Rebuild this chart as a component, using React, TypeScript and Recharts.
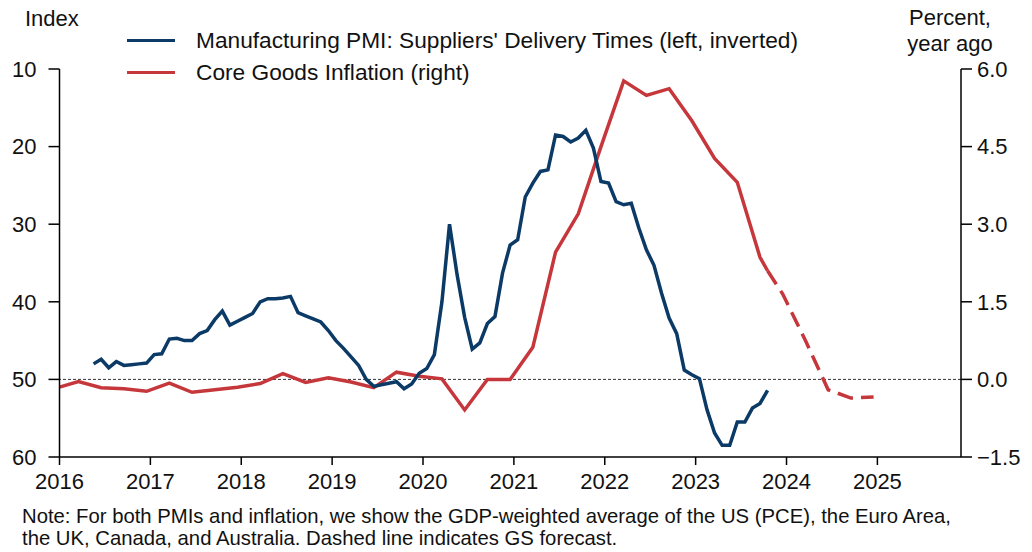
import { LineChart, Line, XAxis, YAxis, ReferenceLine } from "recharts";

// Manufacturing PMI: suppliers' delivery times, monthly from May 2016 (left axis, inverted)
const pmiStart = "2016-05";
const pmiValues = [
  48.0, 47.4, 48.5, 47.7, 48.2, 48.1, 48.0, 47.9,
  46.8, 46.7, 44.8, 44.7, 45.0, 45.0, 44.1, 43.7, 42.3, 41.2, 43.0, 42.5,
  42.0, 41.5, 40.0, 39.6, 39.6, 39.5, 39.3, 41.4, 41.8, 42.2, 42.6, 43.7,
  45.0, 46.0, 47.1, 48.2, 50.0, 50.9, 50.7, 50.5, 50.3, 51.2, 50.6, 49.2,
  48.6, 46.8, 40.0, 30.0, 36.5, 42.0, 46.1, 45.3, 42.8, 41.9, 36.3, 32.7,
  32.0, 26.5, 24.7, 23.2, 23.0, 18.5, 18.7, 19.4, 18.9, 17.9, 20.2, 24.5,
  24.7, 27.1, 27.5, 27.3, 30.5, 33.3, 35.3, 38.9, 42.1, 44.1, 48.8, 49.4,
  49.9, 53.9, 56.9, 58.5, 58.5, 55.5, 55.5, 53.7, 53.1, 51.4,
];

// Core goods inflation, % yoy (right axis)
const coreDates = [
  "2015-12", "2016-03", "2016-06", "2016-09", "2016-12", "2017-03", "2017-06", "2017-09",
  "2017-12", "2018-03", "2018-06", "2018-09", "2018-12", "2019-03", "2019-06", "2019-09",
  "2019-12", "2020-03", "2020-06", "2020-09", "2020-12", "2021-03", "2021-06", "2021-09",
  "2021-12", "2022-03", "2022-06", "2022-09", "2022-12", "2023-03", "2023-06", "2023-09",
  "2023-10",
];
const coreValues = [
  -0.17, -0.04, -0.16, -0.18, -0.23, -0.07, -0.25, -0.2,
  -0.15, -0.08, 0.11, -0.06, 0.03, -0.05, -0.16, 0.14,
  0.06, 0.01, -0.59, 0.0, 0.0, 0.62, 2.46, 3.2,
  4.5, 5.77, 5.49, 5.62, 5.0, 4.27, 3.81, 2.36,
  2.1,
];

// GS forecast (dashed)
const forecastDates = ["2023-10", "2023-12", "2024-03", "2024-06", "2024-09", "2024-12"];
const forecastValues = [2.1, 1.65, 0.75, -0.2, -0.36, -0.34];

const yearTicks = [2016, 2017, 2018, 2019, 2020, 2021, 2022, 2023, 2024, 2025];
const leftTicks = [10, 20, 30, 40, 50, 60];
const rightTicks = [-1.5, 0, 1.5, 3, 4.5, 6];

const NAVY = "#0b3a66";
const RED = "#c6373c";
const FONT = "'Liberation Sans', Arial, sans-serif";

const toYear = (ym: string) => {
  const [y, m] = ym.split("-").map(Number);
  return y + (m - 0.5) / 12;
};

const [startY, startM] = pmiStart.split("-").map(Number);
const pmiData = pmiValues.map((v, i) => ({
  t: startY + (startM - 1 + i + 0.5) / 12,
  pmi: v,
}));
const coreData = coreDates.map((d, i) => ({ t: toYear(d), core: coreValues[i] }));
const forecastData = forecastDates.map((d, i) => ({ t: toYear(d), core: forecastValues[i] }));

const tickStyle = { fill: "#111", fontSize: 22, fontFamily: FONT };
const fmtRight = (v: number) => (v < 0 ? "\u2212" + Math.abs(v).toFixed(1) : v.toFixed(1));

export default function App() {
  return (
    <div
      style={{
        position: "absolute",
        left: 0,
        top: 0,
        width: 1032,
        height: 552,
        background: "#fff",
        fontFamily: FONT,
        color: "#111",
      }}
    >
      <LineChart width={1032} height={552} margin={{ top: 69, right: 0, bottom: 0, left: 0 }}>
        <XAxis
          type="number"
          dataKey="t"
          domain={[2016, 2025.92]}
          ticks={yearTicks}
          allowDataOverflow
          tickSize={8}
          tickMargin={8}
          height={95}
          stroke="#000"
          strokeWidth={1.5}
          tick={tickStyle}
        />
        <YAxis
          yAxisId="left"
          orientation="left"
          reversed
          domain={[10, 60]}
          ticks={leftTicks}
          width={59.5}
          tickSize={11}
          tickMargin={12}
          stroke="#000"
          strokeWidth={1.5}
          tick={tickStyle}
        />
        <YAxis
          yAxisId="right"
          orientation="right"
          domain={[-1.5, 6]}
          ticks={rightTicks}
          tickFormatter={fmtRight}
          width={71}
          tickSize={11}
          tickMargin={5}
          stroke="#000"
          strokeWidth={1.5}
          tick={tickStyle}
        />
        <ReferenceLine yAxisId="right" y={0} stroke="#333" strokeWidth={1} strokeDasharray="3 2" />
        <Line
          yAxisId="right"
          data={coreData}
          dataKey="core"
          stroke={RED}
          strokeWidth={3.5}
          dot={false}
          isAnimationActive={false}
        />
        <Line
          yAxisId="right"
          data={forecastData}
          dataKey="core"
          stroke={RED}
          strokeWidth={3.5}
          strokeDasharray="16 8"
          dot={false}
          isAnimationActive={false}
        />
        <Line
          yAxisId="left"
          data={pmiData}
          dataKey="pmi"
          stroke={NAVY}
          strokeWidth={3.5}
          dot={false}
          isAnimationActive={false}
        />
      </LineChart>

      <div style={{ position: "absolute", left: 25, top: 6, fontSize: 22 }}>Index</div>
      <div
        style={{
          position: "absolute",
          left: 890,
          top: 5,
          width: 120,
          fontSize: 22,
          lineHeight: "26px",
          textAlign: "center",
        }}
      >
        Percent,
        <br />
        year ago
      </div>

      {[
        { label: "Manufacturing PMI: Suppliers' Delivery Times (left, inverted)", color: NAVY, y: 40 },
        { label: "Core Goods Inflation (right)", color: RED, y: 72 },
      ].map((item) => (
        <div key={item.label}>
          <div
            style={{
              position: "absolute",
              left: 127,
              top: item.y - 1.5,
              width: 48,
              height: 3,
              background: item.color,
            }}
          />
          <div
            style={{
              position: "absolute",
              left: 196,
              top: item.y - 13,
              fontSize: 22.7,
              lineHeight: "26px",
              whiteSpace: "nowrap",
            }}
          >
            {item.label}
          </div>
        </div>
      ))}

      <div
        style={{
          position: "absolute",
          left: 22,
          top: 505,
          fontSize: 20.3,
          lineHeight: "22px",
          whiteSpace: "nowrap",
        }}
      >
        Note: For both PMIs and inflation, we show the GDP-weighted average of the US (PCE), the Euro Area,
        <br />
        the UK, Canada, and Australia. Dashed line indicates GS forecast.
      </div>
    </div>
  );
}
